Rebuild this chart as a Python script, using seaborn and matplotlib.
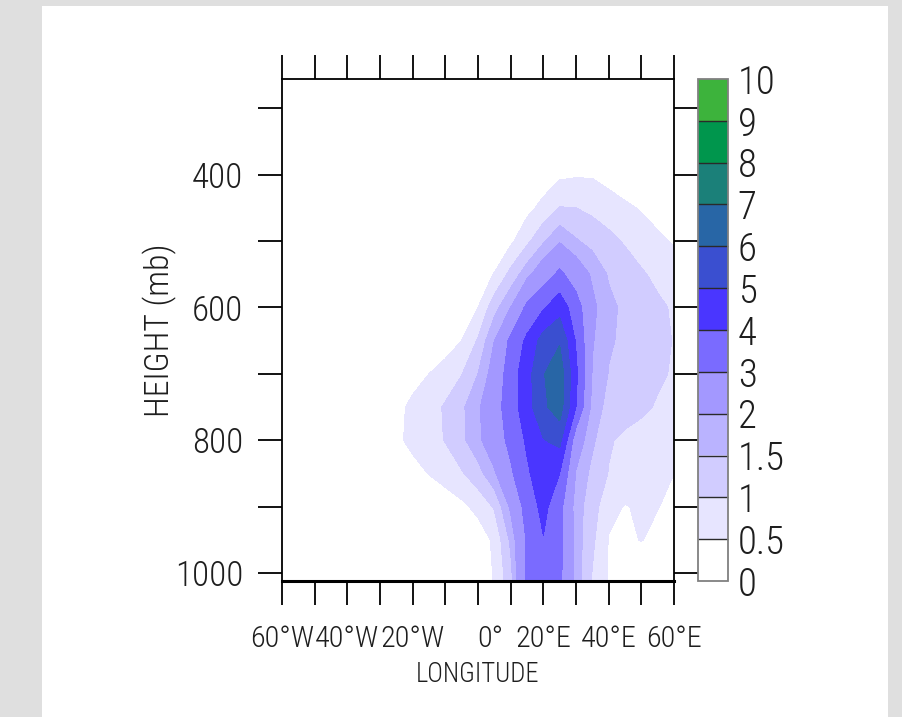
import numpy as np
import pandas as pd
import matplotlib
matplotlib.use("Agg")
import matplotlib.pyplot as plt
import matplotlib.transforms as mtransforms
from matplotlib.patches import Rectangle
from matplotlib import font_manager
import seaborn as sns

# ---- data -------------------------------------------------------------
longitudes = [-60, -55, -50, -45, -40, -35, -30, -25, -20, -15, -10, -5, 0,
              5, 10, 15, 20, 25, 30, 35, 40, 45, 50, 55, 60]
pressure_levels = [250, 300, 350, 400, 450, 500, 550, 600, 650, 700, 750,
                   800, 850, 900, 950, 1000, 1012]

# field values per pressure level, west -> east
# (longitudes -60 .. -30 are zero everywhere)
west_zeros = [0, 0, 0, 0, 0, 0, 0]
p250 = west_zeros + [0, 0, 0, 0, 0, 0, 0, 0, 0, 0, 0, 0, 0, 0, 0, 0, 0, 0]
p300 = west_zeros + [0, 0, 0, 0, 0, 0, 0, 0, 0, 0, 0, 0, 0, 0, 0, 0, 0, 0]
p350 = west_zeros + [0, 0, 0, 0, 0, 0, 0, 0, 0, 0, 0, 0, 0, 0, 0, 0, 0, 0]
p400 = west_zeros + [0, 0, 0, 0, 0, 0, 0, 0, 0.05, 0.2, 0.4, 0.45, 0.45, 0.3, 0.15, 0.05, 0, 0]
p450 = west_zeros + [0, 0, 0, 0, 0, 0, 0, 0.1, 0.35, 0.65, 1.02, 1.0, 0.88, 0.75, 0.6, 0.45, 0.3, 0.2]
p500 = west_zeros + [0, 0, 0, 0, 0, 0, 0.15, 0.4, 0.88, 1.42, 1.93, 1.55, 1.33, 1.13, 0.95, 0.8, 0.6, 0.45]
p550 = west_zeros + [0, 0, 0, 0, 0.1, 0.3, 0.52, 1.15, 1.8, 2.5, 3.2, 2.5, 1.9, 1.45, 1.25, 1.05, 0.9, 0.78]
p600 = west_zeros + [0, 0, 0, 0.1, 0.3, 0.5, 1.3, 2.0, 3.2, 3.9, 4.6, 3.45, 2.15, 1.62, 1.4, 1.25, 1.08, 0.95]
p650 = west_zeros + [0, 0, 0, 0.2, 0.5, 1.05, 2.0, 3.2, 4.2, 5.4, 5.9, 3.9, 2.05, 1.55, 1.42, 1.3, 1.12, 0.98]
p700 = west_zeros + [0, 0.3, 0.5, 0.75, 0.98, 1.5, 2.3, 3.5, 4.6, 5.95, 6.6, 4.2, 1.95, 1.48, 1.35, 1.2, 1.08, 0.95]
p750 = west_zeros + [0.35, 0.62, 0.82, 1.05, 1.4, 1.9, 2.6, 3.5, 4.6, 5.8, 6.5, 4.0, 1.75, 1.35, 1.2, 1.1, 0.95, 0.85]
p800 = west_zeros + [0.38, 0.65, 0.85, 1.02, 1.38, 1.85, 2.5, 3.25, 4.15, 4.95, 5.3, 2.4, 1.6, 1.05, 0.9, 0.8, 0.7, 0.62]
p850 = west_zeros + [0, 0.3, 0.52, 0.75, 0.95, 1.3, 1.9, 2.85, 3.85, 4.6, 4.0, 1.95, 1.35, 0.98, 0.8, 0.68, 0.6, 0.5]
p900 = west_zeros + [0, 0, 0, 0.15, 0.38, 0.65, 1.05, 2.1, 3.4, 4.3, 3.3, 1.7, 1.25, 0.6, 0.48, 0.55, 0.52, 0.35]
p950 = west_zeros + [0, 0, 0, 0, 0, 0.2, 0.6, 1.6, 3.1, 3.95, 3.3, 1.75, 1.1, 0.48, 0.4, 0.52, 0.35, 0.2]
p1000 = west_zeros + [0, 0, 0, 0, 0, 0.1, 0.55, 1.35, 3.15, 3.8, 3.2, 1.75, 0.98, 0.45, 0.2, 0.1, 0.05, 0]
p1012 = west_zeros + [0, 0, 0, 0, 0, 0.1, 0.55, 1.35, 3.15, 3.8, 3.2, 1.75, 0.98, 0.45, 0.2, 0.1, 0.05, 0]

contour_levels = [0, 0.5, 1, 1.5, 2, 3, 4, 5, 6, 7, 8, 9, 10]
level_labels = ["0", "0.5", "1", "1.5", "2", "3", "4", "5", "6", "7", "8", "9", "10"]
fill_colors = ["#ffffff", "#e7e5ff", "#d1ccff", "#bab3ff", "#a398ff", "#7a6bff",
               "#4a36ff", "#3a4fd0", "#2866a6", "#1b8079", "#00964d", "#3db33c"]

lon_major = [-60, -40, -20, 0, 20, 40, 60]
lon_labels = ["60°W", "40°W", "20°W", "0°", "20°E", "40°E", "60°E"]
lon_minor = [-50, -30, -10, 10, 30, 50]
p_major = [400, 600, 800, 1000]
p_labels = ["400", "600", "800", "1000"]
p_minor = [300, 500, 700, 900]

field = pd.DataFrame(
    [p250, p300, p350, p400, p450, p500, p550, p600, p650, p700, p750,
     p800, p850, p900, p950, p1000, p1012],
    index=pressure_levels, columns=longitudes)

# ---- style -------------------------------------------------------------
sns.set_theme(style="white")


def _weight_num(w):
    if isinstance(w, (int, float)):
        return int(w)
    return {"ultralight": 200, "light": 300, "normal": 400, "regular": 400,
            "book": 400, "medium": 500, "bold": 700}.get(str(w).lower(), 400)


fonts = font_manager.fontManager.ttflist
names = {f.name for f in fonts}
family = "Liberation Sans"
for cand in ["Liberation Sans Narrow", "Roboto Condensed", "PT Sans Narrow",
             "Archivo Narrow", "Liberation Sans"]:
    if cand in names:
        family = cand
        break
has_light = any(f.name == family and _weight_num(f.weight) <= 300 and f.style == "normal"
                for f in fonts)
weight = "light" if has_light else "normal"
plt.rcParams["font.family"] = [family, "DejaVu Sans"]
plt.rcParams["font.weight"] = weight
plt.rcParams["axes.labelweight"] = weight
ink = "#1e1e1e"

W, H = 903, 717
fig = plt.figure(figsize=(W / 100, H / 100), dpi=100, facecolor="#dfdfdf")
fig.patches.append(Rectangle((42 / W, 0), 846 / W, 711 / H, transform=fig.transFigure,
                             facecolor="white", edgecolor="none", zorder=-1))
renderer = fig.canvas.get_renderer()


def fit_size(text, target_px):
    """Font size (pt) that gives `text` the requested width in pixels."""
    probe = fig.text(0, 0, text, fontsize=20, weight=weight)
    width = probe.get_window_extent(renderer).width
    probe.remove()
    return 20 * target_px / width


xtick_size = fit_size("60°W", 64)
ytick_size = fit_size("1000", 68)
cbar_size = fit_size("0.5", 47)
xlabel_size = fit_size("LONGITUDE", 124)
ylabel_size = fit_size("HEIGHT (mb)", 174)

ax = fig.add_axes([282 / W, 1 - 581 / H, 392 / W, 502 / H])
ax.set_facecolor("white")
cf = ax.contourf(field.columns.values, field.index.values, field.values,
                 levels=contour_levels, colors=fill_colors)

ax.set_xlim(-60, 60)
ax.set_ylim(1012, 256)

ax.set_xticks(lon_major)
ax.set_xticklabels(lon_labels)
ax.set_xticks(lon_minor, minor=True)
ax.set_yticks(p_major)
ax.set_yticklabels(p_labels)
ax.set_yticks(p_minor, minor=True)

ax.tick_params(which="both", direction="out", length=17, width=1.3, color="black",
               top=True, right=True, bottom=True, left=True)
ax.tick_params(axis="x", which="major", labelsize=xtick_size, pad=15, labelcolor=ink)
ax.tick_params(axis="y", which="major", labelsize=ytick_size, pad=11, labelcolor=ink)

for side in ["left", "right", "top"]:
    ax.spines[side].set_linewidth(1.3)
    ax.spines[side].set_color("black")
ax.spines["bottom"].set_linewidth(2.2)
ax.spines["bottom"].set_color("black")

for lbl in ax.get_xticklabels():
    if lbl.get_text() == "0°":
        lbl.set_transform(lbl.get_transform() +
                          mtransforms.ScaledTranslation(0.12, 0, fig.dpi_scale_trans))

ax.set_xlabel("LONGITUDE", fontsize=xlabel_size, color=ink, fontweight=weight)
ax.xaxis.set_label_coords(0.5, -(661 - 581) / 502)
ax.set_ylabel("HEIGHT (mb)", fontsize=ylabel_size, color=ink, fontweight=weight)
ax.yaxis.set_label_coords(-(282 - 177) / 392, 0.5)

# ---- colour bar ---------------------------------------------------------
cax = fig.add_axes([698 / W, 1 - 581 / H, 30 / W, 502 / H])
cb = fig.colorbar(cf, cax=cax, ticks=contour_levels, drawedges=True)
cb.set_ticklabels(level_labels)
cax.tick_params(length=0, labelsize=cbar_size, pad=7, labelcolor=ink)
cb.outline.set_edgecolor("#808080")
cb.outline.set_linewidth(1.3)
cb.dividers.set_color("#2a2a2a")
cb.dividers.set_linewidth(1.0)

fig.savefig("out.png", dpi=100, facecolor=fig.get_facecolor())
